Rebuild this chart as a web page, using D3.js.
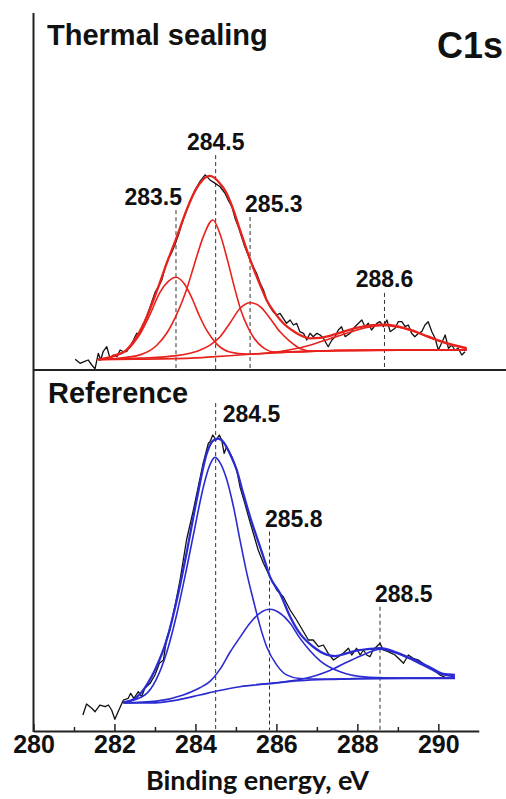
<!DOCTYPE html>
<html><head><meta charset="utf-8">
<script src="https://cdn.jsdelivr.net/npm/d3@7"></script>
<style>body{margin:0;background:#fff}svg{display:block}</style>
</head><body>
<svg id="chart" width="506" height="799"></svg>
<script>
// ---------------- DATA ----------------
const xDomain = [280, 291];
const xTicksMajor = [280, 282, 284, 286, 288, 290];
const xTicksMinor = [281, 283, 285, 287, 289];
const xAxisTitle = "Binding energy, eV";
const elementLabel = "C1s";
const panelTitles = ["Thermal sealing", "Reference"];

// Thermal sealing: measured spectrum [eV, intensity a.u.]
const topRaw = [[281.03,2.97],[281.15,1.86],[281.25,2.31],[281.35,2.78],[281.44,1.39],[281.52,0.3],[281.60,4.64],[281.66,2.78],[281.72,5.08],[281.81,6.47],[281.89,3.25],[281.97,4.17],[282.06,3.69],[282.14,5.56],[282.22,5.08],[282.30,5.08],[282.38,6.47],[282.47,8.33],[282.55,10.2],[282.63,10.0],[282.71,12.5],[282.80,15.0],[282.88,17.5],[283.00,21.5],[283.08,23.0],[283.17,25.0],[283.25,28.5],[283.33,31.0],[283.41,32.5],[283.50,35.0],[283.58,37.5],[283.66,40.5],[283.74,43.0],[283.87,47.0],[283.99,50.0],[284.11,52.31],[284.24,54.2],[284.36,52.8],[284.48,51.9],[284.61,50.9],[284.73,49.1],[284.81,47.2],[284.90,45.4],[284.98,42.1],[285.06,39.8],[285.14,37.0],[285.22,34.25],[285.35,30.56],[285.43,28.69],[285.51,26.86],[285.60,24.08],[285.68,22.22],[285.76,19.44],[285.84,17.58],[285.92,16.19],[286.01,15.28],[286.09,15.75],[286.17,14.36],[286.25,12.97],[286.34,13.89],[286.42,12.5],[286.50,12.97],[286.58,10.64],[286.67,10.19],[286.75,8.33],[286.83,10.19],[286.91,9.25],[287.00,10.19],[287.08,9.72],[287.16,8.81],[287.28,6.47],[287.37,8.33],[287.45,9.25],[287.53,11.11],[287.61,12.03],[287.70,9.25],[287.82,10.19],[287.94,12.03],[288.11,13.89],[288.19,12.03],[288.27,12.97],[288.35,11.11],[288.48,12.97],[288.56,13.42],[288.64,12.03],[288.73,13.89],[288.81,10.64],[288.93,11.58],[289.01,13.42],[289.10,13.42],[289.18,12.03],[289.26,12.5],[289.34,10.19],[289.42,9.25],[289.51,10.19],[289.59,10.64],[289.67,12.5],[289.75,13.42],[289.84,10.64],[289.92,8.81],[290.00,5.56],[290.08,7.42],[290.17,9.72],[290.25,6.03],[290.33,6.94],[290.41,5.56],[290.49,6.03],[290.58,4.17],[290.66,5.08]];
const topEnvelope = [[281.60,2.9],[281.97,3.9],[282.30,5.6],[282.55,9.25],[282.80,14.8],[283.04,21.75],[283.29,29.6],[283.54,37.0],[283.78,44.4],[284.03,50.5],[284.28,53.7],[284.36,53.9],[284.57,52.3],[284.77,49.1],[284.94,44.4],[285.10,38.9],[285.27,33.3],[285.43,28.3],[285.60,23.6],[285.76,19.4],[285.97,15.75],[286.17,13.0],[286.38,11.1],[286.58,9.7],[286.83,8.8],[287.08,8.9],[287.32,9.5],[287.65,10.6],[287.98,11.7],[288.31,12.4],[288.64,12.6],[288.97,12.2],[289.30,11.2],[289.63,9.8],[289.96,8.4],[290.29,7.2],[290.70,6.1]];
const topBackground = [[281.60,2.9],[282.5,3.0],[283.5,3.15],[284.0,3.35],[284.5,3.7],[285.0,4.1],[285.5,4.5],[286.0,4.85],[286.5,5.1],[287.5,5.4],[288.5,5.5],[289.5,5.55],[290.70,5.6]];
const topPeak1 = [[281.60,3.0],[282.0,3.8],[282.30,5.5],[282.63,10.0],[282.88,15.5],[283.12,21.5],[283.33,24.6],[283.52,25.75],[283.72,24.0],[283.92,19.8],[284.10,15.0],[284.28,11.0],[284.53,7.2],[284.85,5.0],[285.27,4.4],[286.0,4.85],[287.5,5.4],[290.70,5.6]];
const topPeak2 = [[281.60,2.9],[282.05,3.2],[282.63,4.2],[283.04,6.8],[283.29,10.2],[283.54,15.5],[283.78,22.3],[283.98,29.6],[284.20,37.2],[284.43,41.67],[284.63,37.0],[284.79,30.6],[284.96,23.1],[285.12,16.7],[285.29,12.0],[285.45,8.8],[285.70,6.0],[286.01,4.9],[286.42,5.0],[287.5,5.4],[290.70,5.6]];
const topPeak3 = [[281.60,2.9],[282.63,3.3],[283.54,4.0],[284.11,5.5],[284.36,6.9],[284.61,9.25],[284.85,13.0],[285.10,17.1],[285.35,18.7],[285.60,17.6],[285.84,14.4],[286.09,10.6],[286.34,7.9],[286.58,6.0],[286.91,5.2],[287.5,5.4],[290.70,5.6]];
const topPeak4 = [[285.76,4.6],[286.34,5.6],[286.83,6.9],[287.32,8.7],[287.82,10.5],[288.23,11.8],[288.64,12.4],[289.05,11.8],[289.47,10.4],[289.88,8.6],[290.29,7.0],[290.70,5.9]];
const topPeakCenters = [283.52, 284.5, 285.35, 288.67];
const topPeakLabels = ["283.5", "284.5", "285.3", "288.6"];
const topLabelLevels = [45.8, 61.1, 44.0, 23.1];
const topDashTops = [44.4, 59.7, 42.5, 21.4];

// Reference: measured spectrum
const botRaw = [[281.22,4.44],[281.31,7.5],[281.44,6.31],[281.52,5.36],[281.64,7.22],[281.77,6.75],[281.85,7.22],[281.93,5.83],[282.01,3.25],[282.09,5.36],[282.22,8.61],[282.34,9.08],[282.40,10.47],[282.48,9.08],[282.59,10.92],[282.67,9.53],[282.75,11.86],[282.88,13.25],[283.00,15.56],[283.11,18.81],[283.21,19.72],[283.29,25.75],[283.37,28.06],[283.50,35.0],[283.62,41.94],[283.78,53.06],[283.95,61.39],[284.07,67.86],[284.19,74.36],[284.32,79.92],[284.36,80.36],[284.43,82.22],[284.51,80.83],[284.59,82.22],[284.65,80.83],[284.71,77.14],[284.77,78.97],[284.90,76.19],[285.02,72.5],[285.10,67.86],[285.22,63.25],[285.31,59.53],[285.43,54.92],[285.55,50.28],[285.68,46.58],[285.80,43.81],[285.88,41.94],[286.01,39.17],[286.17,37.31],[286.34,33.61],[286.50,30.83],[286.67,27.58],[286.79,25.28],[286.91,25.28],[287.04,23.42],[287.16,23.89],[287.28,21.58],[287.41,19.72],[287.53,20.64],[287.65,21.58],[287.78,22.97],[287.86,21.11],[287.98,22.97],[288.07,21.11],[288.15,22.5],[288.23,21.11],[288.31,20.64],[288.39,22.5],[288.56,24.36],[288.64,22.5],[288.76,22.03],[288.93,21.11],[289.06,19.72],[289.14,18.81],[289.26,21.11],[289.38,20.19],[289.51,19.72],[289.67,18.33],[289.88,16.94],[290.04,15.56],[290.17,14.92]];
const botEnvelope = [[282.22,8.0],[282.50,9.0],[282.75,12.0],[283.04,17.9],[283.29,25.3],[283.54,36.4],[283.78,49.4],[284.03,64.2],[284.28,77.1],[284.43,80.6],[284.56,81.2],[284.69,80.3],[284.85,77.1],[285.02,72.5],[285.18,66.0],[285.35,59.5],[285.51,54.0],[285.68,48.4],[285.84,42.9],[286.09,38.2],[286.34,31.75],[286.58,27.1],[286.91,23.4],[287.24,21.2],[287.45,20.8],[287.65,21.3],[287.98,22.3],[288.31,22.8],[288.56,23.0],[288.97,21.8],[289.38,19.9],[289.79,17.7],[290.12,15.9],[290.41,15.6]];
const botBackground = [[282.22,7.8],[282.88,7.8],[283.54,8.6],[284.11,10.0],[284.53,11.1],[285.10,12.3],[285.76,13.06],[286.58,13.97],[287.41,14.36],[288.64,14.64],[290.41,14.64]];
const botPeak1 = [[282.22,7.9],[282.75,10.0],[283.04,14.5],[283.29,21.8],[283.54,32.5],[283.78,45.0],[284.03,59.0],[284.19,67.5],[284.36,74.0],[284.48,76.0],[284.61,74.5],[284.77,70.0],[284.94,62.3],[285.10,53.1],[285.27,43.8],[285.43,36.4],[285.60,29.0],[285.76,23.4],[286.01,18.3],[286.25,15.6],[286.58,14.6],[287.2,14.4],[288.0,14.55],[290.41,14.7]];
const botPeak2 = [[282.22,7.8],[283.04,8.3],[283.70,10.0],[284.11,12.0],[284.36,13.8],[284.61,17.2],[284.85,21.8],[285.10,26.0],[285.35,30.0],[285.60,32.8],[285.84,33.8],[286.09,32.7],[286.34,29.9],[286.58,25.8],[286.83,22.3],[287.08,19.5],[287.41,17.2],[287.82,15.6],[288.3,14.9],[289.0,14.7],[290.41,14.7]];
const botPeak3 = [[285.5,12.9],[286.2,13.7],[286.58,14.3],[287.0,15.5],[287.32,16.8],[287.74,19.1],[288.15,21.2],[288.56,22.7],[288.97,21.6],[289.38,19.6],[289.79,17.3],[290.12,15.6],[290.41,15.1]];
const botPeakCenters = [284.5, 285.83, 288.56];
const botPeakLabels = ["284.5", "285.8", "288.5"];
const botLabelLevels = [85.9, 56.75, 35.9];
const botDashTops = [91.1, 55.4, 34.5];

// ---------------- LAYOUT ----------------
const svg = d3.select("#chart");
const FONT = "'Liberation Sans', Arial, Helvetica, sans-serif";
const x = d3.scaleLinear().domain(xDomain).range([33.5, 478.8]);
const yTop = d3.scaleLinear().domain([0, 100]).range([370, 10]);
const yBot = d3.scaleLinear().domain([0, 100]).range([731, 371]);
const RED = "#e8211c", BLUE = "#2b2bd2", INK = "#111";

const topLabelLayout = [{a:"end",dx:6},{a:"middle",dx:0},{a:"start",dx:-5},{a:"middle",dx:0}];
const botLabelLayout = [{a:"start",dx:7},{a:"start",dx:-4.5},{a:"start",dx:-5}];

function drawPanel(y, raw, env, bg, peaks, centers, labels, levels, dashTops, layout, color, bottomPx) {
  const g = svg.append("g");
  centers.forEach((c, i) => {
    g.append("line").attr("x1", x(c)).attr("x2", x(c))
      .attr("y1", y(dashTops[i])).attr("y2", bottomPx)
      .attr("stroke", "#333").attr("stroke-width", 1).attr("stroke-dasharray", "4,3");
    g.append("text").attr("x", x(c) + layout[i].dx).attr("y", y(levels[i]))
      .attr("text-anchor", layout[i].a)
      .attr("font-family", FONT).attr("font-weight", "bold").attr("font-size", 23)
      .attr("fill", "#111").text(labels[i]);
  });
  const rawLine = d3.line().x(d => x(d[0])).y(d => y(d[1]));
  const fitLine = d3.line().x(d => x(d[0])).y(d => y(d[1])).curve(d3.curveMonotoneX);
  g.append("path").attr("d", rawLine(raw)).attr("fill", "none")
    .attr("stroke", INK).attr("stroke-width", 1.3).attr("stroke-linejoin", "round");
  g.append("path").attr("d", fitLine(bg)).attr("fill", "none")
    .attr("stroke", color).attr("stroke-width", 1.7);
  peaks.forEach(p => {
    g.append("path").attr("d", fitLine(p)).attr("fill", "none")
      .attr("stroke", color).attr("stroke-width", 1.6);
  });
  g.append("path").attr("d", fitLine(env)).attr("fill", "none")
    .attr("stroke", color).attr("stroke-width", 2.3);
}

drawPanel(yTop, topRaw, topEnvelope, topBackground, [topPeak1, topPeak2, topPeak3, topPeak4],
  topPeakCenters, topPeakLabels, topLabelLevels, topDashTops, topLabelLayout, RED, 369);
drawPanel(yBot, botRaw, botEnvelope, botBackground, [botPeak1, botPeak2, botPeak3],
  botPeakCenters, botPeakLabels, botLabelLevels, botDashTops, botLabelLayout, BLUE, 730);

// frame lines
svg.append("line").attr("x1", 33.5).attr("x2", 33.5).attr("y1", 13).attr("y2", 732)
  .attr("stroke", "#222").attr("stroke-width", 2);
svg.append("line").attr("x1", 33.5).attr("x2", 506).attr("y1", 370).attr("y2", 370)
  .attr("stroke", "#222").attr("stroke-width", 2);

// x axis
const axMajor = svg.append("g").attr("transform", "translate(0,731)")
  .call(d3.axisBottom(x).tickValues(xTicksMajor).tickSizeInner(-7).tickSizeOuter(0)
    .tickPadding(4).tickFormat(d3.format("d")));
axMajor.select(".domain").attr("stroke", "#222").attr("stroke-width", 2);
axMajor.selectAll(".tick line").attr("stroke", "#222").attr("stroke-width", 1.5);
axMajor.selectAll(".tick text").attr("font-family", FONT).attr("font-weight", "bold")
  .attr("font-size", 25).attr("fill", "#111");
const axMinor = svg.append("g").attr("transform", "translate(0,731)")
  .call(d3.axisBottom(x).tickValues(xTicksMinor).tickSizeInner(-4).tickSizeOuter(0).tickFormat(""));
axMinor.select(".domain").remove();
axMinor.selectAll(".tick line").attr("stroke", "#222").attr("stroke-width", 1.5);

// titles
svg.append("text").attr("x", 47).attr("y", 45).attr("font-family", FONT).attr("font-weight", "bold")
  .attr("font-size", 29).attr("fill", "#111").text(panelTitles[0]);
svg.append("text").attr("x", 48).attr("y", 403).attr("font-family", FONT).attr("font-weight", "bold")
  .attr("font-size", 29).attr("fill", "#111").text(panelTitles[1]);
svg.append("text").attr("x", 437).attr("y", 58).attr("font-family", FONT).attr("font-weight", "bold")
  .attr("font-size", 36).attr("fill", "#111").text(elementLabel);
svg.append("text").attr("x", 257.5).attr("y", 790).attr("text-anchor", "middle")
  .attr("font-family", "Lato, 'Open Sans', sans-serif").attr("font-weight", "bold")
  .attr("font-size", 27).attr("fill", "#111").text(xAxisTitle);
</script>
</body></html>
